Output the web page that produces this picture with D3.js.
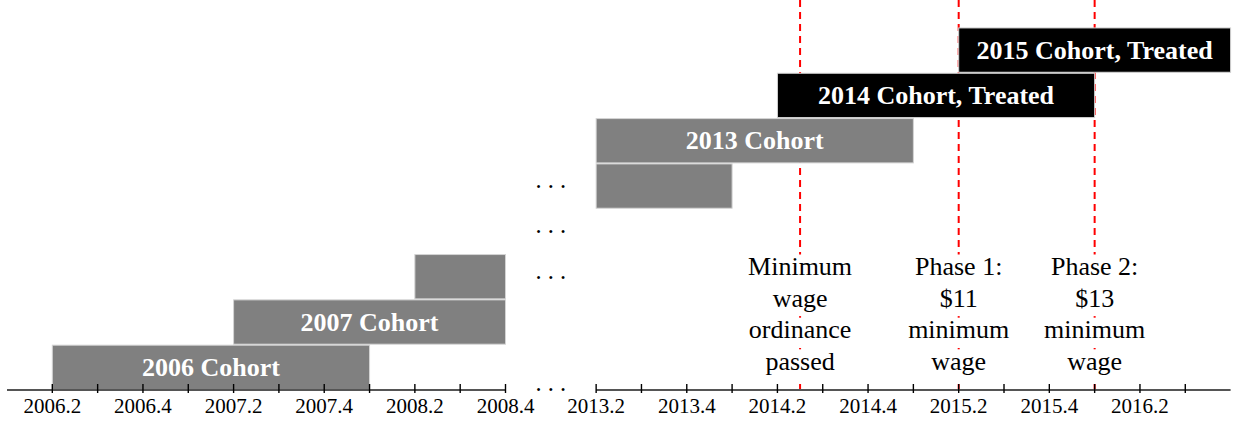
<!DOCTYPE html>
<html>
<head>
<meta charset="utf-8">
<script src="https://cdn.jsdelivr.net/npm/d3@7"></script>
<style>
  html, body { margin: 0; padding: 0; background: #fff; }
  svg { display: block; }
</style>
</head>
<body>
<svg id="chart" width="1236" height="421"></svg>
<script>
// ---- Data ----
const quarters = ["2006.2","2006.3","2006.4","2007.1","2007.2","2007.3","2007.4","2008.1",
  "2008.2","2008.3","2008.4","...","2013.2","2013.3","2013.4","2014.1","2014.2","2014.3",
  "2014.4","2015.1","2015.2","2015.3","2015.4","2016.1","2016.2","2016.3","2016.4"];
const tickLabels = ["2006.2","2006.4","2007.2","2007.4","2008.2","2008.4","2013.2","2013.4",
  "2014.2","2014.4","2015.2","2015.4","2016.2"];
const tickQuarters = ["2006.2","2006.3","2006.4","2007.1","2007.2","2007.3","2007.4","2008.1",
  "2008.2","2008.3","2008.4","2013.2","2013.3","2013.4","2014.1","2014.2","2014.3",
  "2014.4","2015.1","2015.2","2015.3","2015.4","2016.1","2016.2","2016.3"];

const cohortLabels = ["2006 Cohort","2007 Cohort","","","","2013 Cohort","2014 Cohort, Treated","2015 Cohort, Treated"];
const cohortStart  = ["2006.2","2007.2","2008.2",null,"2013.2","2013.2","2014.2","2015.2"];
const cohortEnd    = ["2008.1","2008.4","2008.4",null,"2014.1","2015.1","2016.1","2016.4"];
const cohortTreated = [false,false,false,false,false,false,true,true];
const ellipsisRows = [2,3,4];

const eventQuarter = ["2014.2","2015.2","2016.1"];
const eventOffset  = [0.5, 0, 0];
const eventLines = [["Minimum","wage","ordinance","passed"],
                    ["Phase 1:","$11","minimum","wage"],
                    ["Phase 2:","$13","minimum","wage"]];

// ---- Scales ----
const svg = d3.select("#chart");
const qi = q => quarters.indexOf(q);
const x = d3.scaleLinear().domain([-1, quarters.length - 1]).range([7, 1230.6]);
const axisY = 390;
const rowH = 45.32;
// y(i) gives the top edge of row i (row 0 sits on the axis)
const y = d3.scaleBand().domain(d3.range(cohortLabels.length))
  .range([axisY, axisY - rowH * cohortLabels.length]).paddingInner(0);
const bw = y.bandwidth();

const serif = "'Liberation Serif','Times New Roman',Times,serif";

// ---- Event lines (behind bars) ----
svg.append("g").selectAll("line").data(eventQuarter).join("line")
  .attr("x1", (d,i) => x(qi(d) + eventOffset[i]))
  .attr("x2", (d,i) => x(qi(d) + eventOffset[i]))
  .attr("y1", 0).attr("y2", axisY)
  .attr("stroke", "#ff0000").attr("stroke-width", 2)
  .attr("stroke-dasharray", "7,5");

// ---- Bars ----
const rows = cohortLabels.map((l,i) => ({label:l, s:cohortStart[i], e:cohortEnd[i], t:cohortTreated[i], i}))
  .filter(d => d.s !== null);
const bars = svg.append("g");
bars.selectAll("rect").data(rows).join("rect")
  .attr("x", d => x(qi(d.s)))
  .attr("width", d => x(qi(d.e)) - x(qi(d.s)))
  .attr("y", d => y(d.i) + 0.5)
  .attr("height", bw - 1)
  .attr("fill", d => d.t ? "#000000" : "#808080")
  .attr("stroke", "#d4d4d4").attr("stroke-width", 1);
bars.selectAll("text").data(rows.filter(d => d.label)).join("text")
  .attr("x", d => (x(qi(d.s)) + x(qi(d.e))) / 2)
  .attr("y", d => y(d.i) + bw / 2 + 8.5)
  .attr("text-anchor", "middle")
  .attr("fill", "#ffffff")
  .attr("font-family", serif).attr("font-weight", "bold").attr("font-size", 26)
  .text(d => d.label);

// ---- Ellipses ----
const gapX = x(qi("..."));
svg.append("g").selectAll("text").data(ellipsisRows).join("text")
  .attr("x", gapX).attr("y", d => y(d) + bw / 2 + 1.8)
  .attr("text-anchor", "middle").attr("font-family", serif).attr("font-size", 24.5)
  .attr("fill", "#000").text(". . .");

// ---- Event annotations ----
const lineGap = 31.6, firstBase = 275;
const ann = svg.append("g");
eventQuarter.forEach((q, i) => {
  const cx = x(qi(q) + eventOffset[i]);
  const g = ann.append("g");
  g.selectAll("rect").data(eventLines[i]).join("rect")
    .attr("x", cx - 12).attr("width", 24)
    .attr("y", (d,j) => firstBase + j * lineGap - 20.5)
    .attr("height", 30).attr("fill", "#fff");
  g.selectAll("text").data(eventLines[i]).join("text")
    .attr("x", cx).attr("y", (d,j) => firstBase + j * lineGap)
    .attr("text-anchor", "middle").attr("font-family", serif).attr("font-size", 26)
    .attr("fill", "#000").text(d => d);
});

// ---- Axis ----
const axisG = svg.append("g");
const segs = [[-1, qi("2008.4")], [qi("2013.2"), quarters.length - 1]];
axisG.selectAll("line.seg").data(segs).join("line").attr("class","seg")
  .attr("x1", d => x(d[0])).attr("x2", d => x(d[1]))
  .attr("y1", axisY).attr("y2", axisY)
  .attr("stroke", "#555").attr("stroke-width", 2);
axisG.selectAll("line.tick").data(tickQuarters).join("line").attr("class","tick")
  .attr("x1", d => x(qi(d))).attr("x2", d => x(qi(d)))
  .attr("y1", axisY - 6).attr("y2", axisY + 3)
  .attr("stroke", "#000").attr("stroke-width", 1.4);
axisG.selectAll("text.tl").data(tickLabels).join("text").attr("class","tl")
  .attr("x", d => x(qi(d))).attr("y", 413)
  .attr("text-anchor", "middle").attr("font-family", serif).attr("font-size", 21)
  .attr("fill", "#000").text(d => d);
axisG.append("text")
  .attr("x", gapX).attr("y", axisY + 1.3)
  .attr("text-anchor", "middle").attr("font-family", serif).attr("font-size", 24.5)
  .attr("fill", "#000").text(". . .");
</script>
</body>
</html>
